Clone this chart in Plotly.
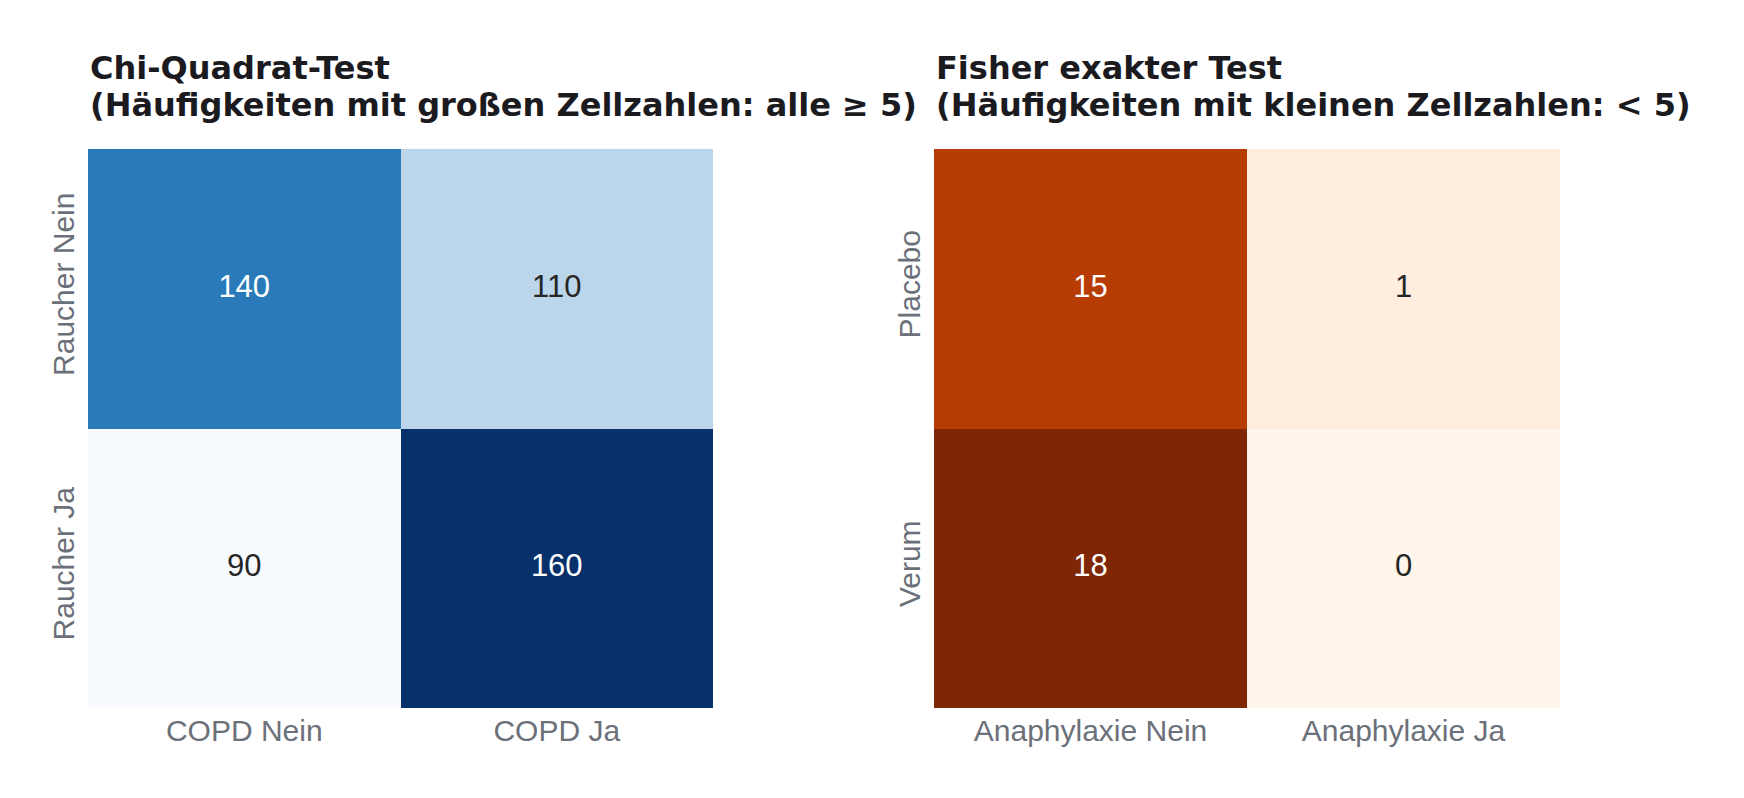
import plotly.graph_objects as go
from plotly.subplots import make_subplots

# ---------------- data ----------------
chi_cols = ["COPD Nein", "COPD Ja"]
chi_rows = ["Raucher Nein", "Raucher Ja"]
chi_values = [[140, 110], [90, 160]]

fisher_cols = ["Anaphylaxie Nein", "Anaphylaxie Ja"]
fisher_rows = ["Placebo", "Verum"]
fisher_values = [[15, 1], [18, 0]]

title_left = ["Chi-Quadrat-Test", "(Häufigkeiten mit großen Zellzahlen: alle ≥ 5)"]
title_right = ["Fisher exakter Test", "(Häufigkeiten mit kleinen Zellzahlen: < 5)"]

# matplotlib colormaps
blues = ['#f7fbff', '#deebf7', '#c6dbef', '#9ecae1', '#6baed6', '#4292c6', '#2171b5', '#08519c', '#08306b']
oranges = ['#fff5eb', '#fee6ce', '#fdd0a2', '#fdae6b', '#fd8d3c', '#f16913', '#d94801', '#a63603', '#7f2704']


def scale(cols):
    n = len(cols) - 1
    return [[i / n, c] for i, c in enumerate(cols)]


def hex2rgb(h):
    h = h.lstrip('#')
    return tuple(int(h[i:i + 2], 16) for i in (0, 2, 4))


def sample(cols, t):
    n = len(cols) - 1
    p = t * n
    i = min(int(p), n - 1)
    f = p - i
    a, b = hex2rgb(cols[i]), hex2rgb(cols[i + 1])
    return tuple(a[k] + (b[k] - a[k]) * f for k in range(3))


def text_colors(values, cols):
    flat = [v for r in values for v in r]
    lo, hi = min(flat), max(flat)
    out = []
    for r in values:
        for v in r:
            rgb = sample(cols, (v - lo) / (hi - lo))
            lum = (0.299 * rgb[0] + 0.587 * rgb[1] + 0.114 * rgb[2]) / 255
            out.append('#ffffff' if lum < 0.5 else '#262626')
    return out


W, H = 1744, 798
ML, MR, MT, MB = 88, 184, 149, 90
pw = W - ML - MR
ph = H - MT - MB

fig = make_subplots(rows=1, cols=2, horizontal_spacing=0.15)

FONT = "Liberation Sans, Arial, sans-serif"
TITLE_FONT = "DejaVu Sans, sans-serif"

for col, (cols_, rows_, vals, cmap) in enumerate(
        [(chi_cols, chi_rows, chi_values, blues), (fisher_cols, fisher_rows, fisher_values, oranges)], start=1):
    fig.add_trace(go.Heatmap(z=vals, x=cols_, y=rows_, colorscale=scale(cmap), showscale=False,
                             hoverinfo='skip'), row=1, col=col)
    xs = [c for r in rows_ for c in cols_]
    ys = [r for r in rows_ for c in cols_]
    ts = [str(v) for r in vals for v in r]
    fig.add_trace(go.Scatter(x=xs, y=ys, mode='text', text=ts,
                             textfont=dict(family=FONT, size=31, color=text_colors(vals, cmap)),
                             hoverinfo='skip', showlegend=False), row=1, col=col)

x1_end = (713 - ML) / pw
x2_start = (934 - ML) / pw
fig.update_xaxes(domain=[0, x1_end], row=1, col=1)
fig.update_xaxes(domain=[x2_start, 1], row=1, col=2)
fig.update_xaxes(showgrid=False, zeroline=False, showline=False, ticks='', ticklabelstandoff=2,
                 tickfont=dict(family=FONT, size=30, color='#6b7079'))
fig.update_yaxes(showgrid=False, zeroline=False, showline=False, ticks='', autorange='reversed',
                 tickangle=-90, ticklabelstandoff=7,
                 tickfont=dict(family=FONT, size=30, color='#6b7079'))


def py(ypix):
    return (H - MB - ypix) / ph


for xpos, lines in [(0, title_left), (x2_start, title_right)]:
    for j, (line, base) in enumerate(zip(lines, [80, 117])):
        fig.add_annotation(xref='paper', yref='paper', x=xpos, y=py(base + 9), xanchor='left', yanchor='bottom',
                           text='<b>' + line + '</b>', showarrow=False,
                           font=dict(family=TITLE_FONT, size=32, color='#1a1a1f'))

fig.update_layout(width=W, height=H, margin=dict(l=ML, r=MR, t=MT, b=MB),
                  paper_bgcolor='white', plot_bgcolor='white', showlegend=False)

fig.write_html("out.html")
